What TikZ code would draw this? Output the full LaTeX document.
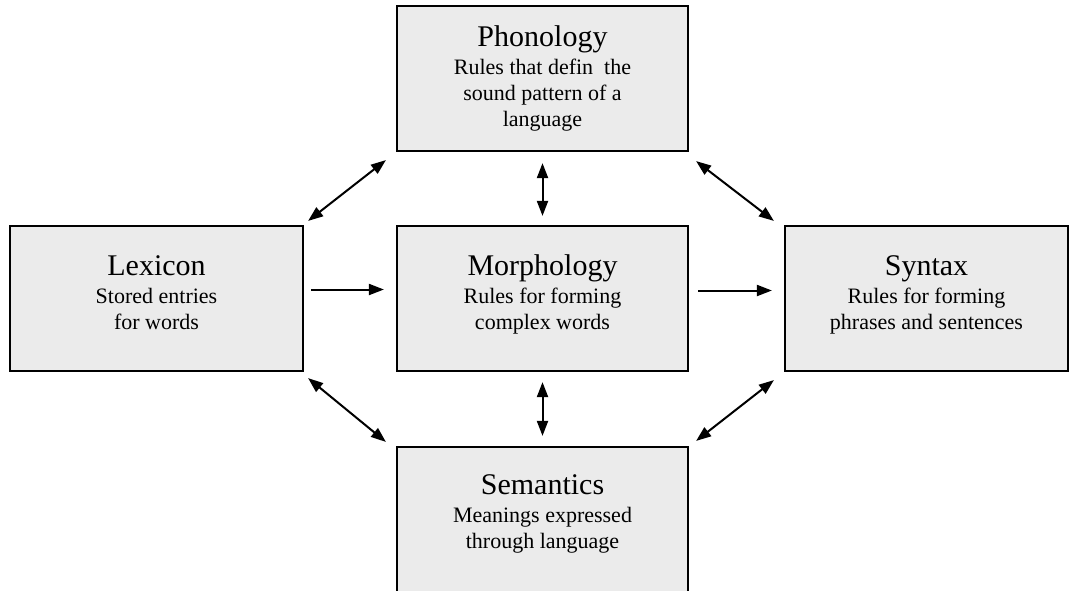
\documentclass[tikz,border=0pt]{standalone}
\usepackage{fontspec}
\setmainfont{Liberation Serif}
\usetikzlibrary{positioning,arrows.meta}
\definecolor{boxgray}{RGB}{235,235,235}
\tikzset{
  level/.style={draw,fill=boxgray,line width=2.2pt,minimum width=291pt,minimum height=145pt,inner sep=0pt},
  caption/.style={align=center,inner sep=0pt,anchor=north,font=\fontsize{22}{26}\selectfont},
  link/.style={line width=2pt,{Triangle[length=15pt,width=11pt]}-{Triangle[length=15pt,width=11pt]}},
  feed/.style={line width=2pt,-{Triangle[length=15pt,width=11pt]}}
}
\newcommand{\head}[1]{{\fontsize{30}{34}\selectfont #1}\\[2pt]}

\begin{document}
\begin{tikzpicture}[x=1pt,y=-1pt,on grid]
  \useasboundingbox (0,0) rectangle (1070,590);
  \node[level] (morph) at (542.5,298.5) {};
  \node[level] (phon) [above=220pt of morph] {};
  \node[level] (sem) [below=221pt of morph] {};
  \node[level,minimum width=293pt] (lex) [left=386pt of morph] {};
  \node[level,minimum width=283pt] (syn) [right=384pt of morph] {};
  % texts
  \node[caption] (phonT) at ([yshift=-20.5pt]phon.north)
    {\head{Phonology}Rules that defin\ \ the\\sound pattern of a\\language};
  \node[caption] (lexT) at ([yshift=-31pt]lex.north)
    {\head{Lexicon}Stored entries\\for words};
  \node[caption] (morphT) at ([yshift=-29.5pt]morph.north)
    {\head{Morphology}Rules for forming\\complex words};
  \node[caption] (synT) at ([yshift=-30.7pt]syn.north)
    {\head{Syntax}Rules for forming\\phrases and sentences};
  \node[caption] (semT) at ([yshift=-28.7pt]sem.north)
    {\head{Semantics}Meanings expressed\\through language};
  % connections
  \path[feed]
  ([shift={(7,-9)}]lex.east) edge ([shift={(-12,-9)}]morph.west)
  ([shift={(9,-8)}]morph.east) edge ([shift={(-12,-8)}]syn.west)
  ;
  \path[link]
  ([shift={(4,-4)}]lex.north east) edge ([shift={(-10,8)}]phon.south west)
  ([shift={(7,9)}]phon.south east) edge ([shift={(-10,-4)}]syn.north west)
  ([shift={(4,6)}]lex.south east) edge ([shift={(-10,-4)}]sem.north west)
  ([shift={(-10,8)}]syn.south west) edge ([shift={(7,-5)}]sem.north east)
  ([yshift=-11pt]phon.south) edge ([yshift=9pt]morph.north)
  ([yshift=-10pt]morph.south) edge ([yshift=10pt]sem.north)
  ;
\end{tikzpicture}
\end{document}
